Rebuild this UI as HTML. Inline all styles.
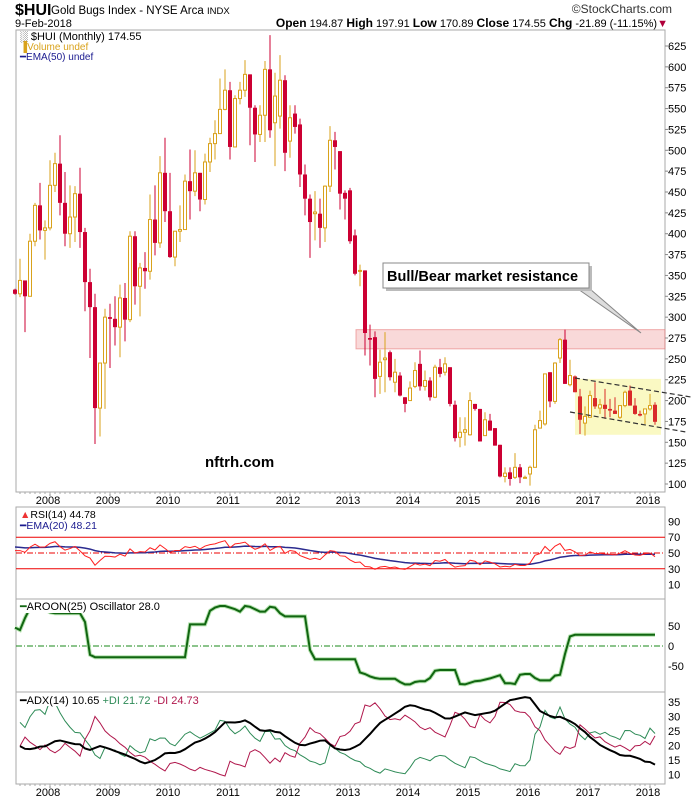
<!DOCTYPE html>
<html><head><meta charset="utf-8"><style>
body{margin:0;background:#fff;font-family:"Liberation Sans",sans-serif;}
svg text{font-family:"Liberation Sans",sans-serif;}
</style></head><body>
<svg id="c" width="700" height="800" viewBox="0 0 700 800" xmlns="http://www.w3.org/2000/svg">
<rect width="700" height="800" fill="#fff"/>
<g>
<text x="15" y="15" font-size="16" font-weight="bold" fill="#000">$HUI</text>
<text x="51" y="14" font-size="11.5" fill="#000">Gold Bugs Index - NYSE Arca <tspan font-size="9.5">INDX</tspan></text>
<text x="672" y="13" font-size="12" fill="#333" text-anchor="end">©StockCharts.com</text>
<text x="15" y="27" font-size="11" fill="#000">9-Feb-2018</text>
<text x="668" y="27" font-size="11" fill="#000" text-anchor="end"><tspan font-weight="bold" font-size="12">Open</tspan> 194.87 <tspan font-weight="bold" font-size="12">High</tspan> 197.91 <tspan font-weight="bold" font-size="12">Low</tspan> 170.89 <tspan font-weight="bold" font-size="12">Close</tspan> 174.55 <tspan font-weight="bold" font-size="12">Chg</tspan> -21.89 (-11.15%)<tspan fill="#b0003a">▼</tspan></text>
</g>
<g id="frames"></g>
<g id="price"></g>
<g id="rsi"></g>
<g id="aroon"></g>
<g id="adx"></g>
<g id="axes"></g>
<g id="overlay"></g>
</svg>
<script>
// ---- data (monthly, Jul 2007 .. Feb 2018) ----
const opens=[333,328,344,325,391,434,404,407,458,484,437,400,420,448,402,342,312,191,245,300,298,288,323,297,397,337,359,355,417,389,473,427,372,403,405,463,451,473,441,486,508,520,549,572,504,562,572,591,551,519,542,597,533,541,584,511,544,531,471,442,424,424,407,457,512,499,449,
452,398,356,356,275,276,229,249,258,222,230,204,200,217,244,217,224,204,240,234,240,195,156,162,159,196,190,158,176,167,147,109,114,108,120,108,112,120,167,172,234,199,251,273,219,229,205,173,180,203,191,195,190,188,180,194,212,194,184,184,190,195];
const highs=[334,370,344,400,437,461,416,488,497,518,474,458,457,479,407,358,328,245,310,316,325,339,341,403,403,365,378,447,458,493,515,473,403,434,471,501,500,473,496,515,536,586,597,582,566,582,608,591,554,554,607,638,593,614,590,554,554,538,483,447,451,442,458,529,522,499,452,
455,405,363,356,291,283,261,282,260,250,234,204,223,246,260,236,228,243,250,252,240,200,180,180,210,196,190,186,184,167,147,120,120,137,124,110,122,171,188,232,234,246,275,285,249,230,214,193,212,222,202,214,202,204,194,212,218,203,188,190,208,198];
const lows=[327,324,282,325,385,393,369,404,450,422,385,383,390,383,307,251,148,157,190,239,266,252,271,294,315,301,334,345,374,383,414,371,361,390,405,417,445,427,435,474,489,520,548,489,504,555,564,506,486,510,510,515,481,526,475,491,520,456,422,371,392,383,390,450,477,429,417,
388,350,337,254,242,204,208,210,224,210,205,186,200,215,212,212,200,203,228,230,193,151,144,146,158,188,151,158,164,146,108,102,98,106,101,108,98,120,167,170,192,196,245,220,217,210,160,158,180,190,184,178,180,184,178,192,194,183,181,172,188,171];
const closes=[328,344,325,391,434,404,407,458,484,437,400,420,448,402,342,312,191,245,300,298,288,323,297,397,337,359,355,417,389,473,427,372,403,405,463,451,473,441,486,508,520,549,572,504,562,572,591,551,519,542,597,524,565,584,497,539,528,471,442,414,426,407,457,512,504,448,442,
391,352,356,281,273,226,246,251,228,234,206,196,215,236,217,224,204,240,232,244,196,155,162,165,200,190,151,177,164,146,109,113,106,120,108,108,120,165,176,232,199,245,273,220,230,210,177,181,206,193,195,190,188,184,194,210,194,184,182,190,194,174.55];
const aroonOsc=[46,40,70,95,100,96,92,84,82,82,82,82,82,82,60,-22,-28,-28,-28,-28,-28,-28,-28,-28,-28,-28,-28,-28,-28,-28,-28,-28,-28,-28,-28,54,54,54,54,88,96,100,100,96,92,86,100,98,92,86,86,98,96,82,74,74,74,74,74,-10,-33,-33,-33,-33,-33,-33,-33,-33,-33,-66,-70,-76,-80,-82,-82,-82,-82,-90,-96,-96,-90,-88,-88,-80,-62,-60,-60,-60,-60,-95,-96,-92,-88,-87,-84,-81,-77,-73,-93,-93,-95,-72,-70,-70,-80,-86,-86,-86,-74,-72,-20,24,28,28,28,28,28,28,28,28,28,28,28,28,28,28,28,28,28];
const yearLabels=["2008","2009","2010","2011","2012","2013","2014","2015","2016","2017","2018"];
const priceTicks=[100,125,150,175,200,225,250,275,300,325,350,375,400,425,450,475,500,525,550,575,600,625];
const rsiTicks=[90,70,50,30,10];
const aroonTicks=[50,0,-50];
const adxTicks=[35,30,25,20,15,10];

const NS="http://www.w3.org/2000/svg";
const N=closes.length;
const L=16,R=665;
function mk(tag,attrs,parent,name){const e=document.createElementNS(NS,tag);for(const k in attrs)e.setAttribute(k,attrs[k]);parent.appendChild(e);


return e;}
const X=i=>655-(N-1-i)*5;
const monthX=(year,m)=>650+((year-2018)*12+m)*5; // Jan 2018 at 650
const yP=p=>46+(625-p)*0.8343;
const yR=v=>553-(v-50)*0.79;
const yA=v=>646-0.4*v;
const yD=v=>702+(35-v)*2.9;

const fr=document.getElementById('frames');
mk('rect',{x:L,y:30,width:R-L,height:462,fill:'none',stroke:'#aaa'},fr,'price-panel-frame');
mk('rect',{x:L,y:507,width:R-L,height:92,fill:'none',stroke:'#aaa'},fr,'rsi-panel-frame');
mk('rect',{x:L,y:599,width:R-L,height:93,fill:'none',stroke:'#aaa'},fr,'aroon-panel-frame');
mk('rect',{x:L,y:692,width:R-L,height:92,fill:'none',stroke:'#aaa'},fr,'adx-panel-frame');

const pg=document.getElementById('price');
mk('rect',{x:356,y:yP(285),width:R-356,height:yP(262)-yP(285),fill:'rgba(235,120,120,0.28)',stroke:'rgba(230,120,120,0.6)'},pg,'resistance-band');
mk('rect',{x:575,y:yP(226),width:86,height:yP(159)-yP(226),fill:'rgba(248,246,170,0.7)'},pg,'consolidation-box');

for(let i=0;i<N;i++){
 const o=opens[i],c=closes[i];
 const h=Math.max(highs[i],o,c),l=Math.min(lows[i],o,c);
 const up=c>=o;
 const col=up?'#d9a21b':(i>=N-18?'#d92a2a':'#cc0033');
 const x=X(i);
 mk('line',{x1:x,x2:x,y1:yP(h),y2:yP(l),stroke:col,'stroke-width':1},pg,'candle-wick');
 const top=yP(Math.max(o,c)),bh=Math.max(1,yP(Math.min(o,c))-top);
 if(up) mk('rect',{x:x-1.5,y:top,width:3,height:bh,fill:'#fff',stroke:col,'stroke-width':1},pg,'candle-body-up');
 else mk('rect',{x:x-2,y:top,width:4,height:bh,fill:col},pg,'candle-body-down');
}
priceTicks.forEach(t=>{mk('line',{x1:R,x2:R+3,y1:yP(t),y2:yP(t),stroke:'#888'},pg,'price-tick');
 const tx=mk('text',{x:668,y:yP(t)+4,'font-size':11,fill:'#000'},pg,'price-tick-label');tx.textContent=t;});

// RSI
const rg=document.getElementById('rsi');
let ag=0,al=0;
for(let i=1;i<=14;i++){const d=closes[i]-closes[i-1];ag+=Math.max(d,0);al+=Math.max(-d,0);}
ag/=14;al/=14;
const rsi=[];
for(let i=1;i<N;i++){const d=closes[i]-closes[i-1];ag=(ag*13+Math.max(d,0))/14;al=(al*13+Math.max(-d,0))/14;rsi[i]=100-100/(1+ag/al);}
rsi[0]=rsi[1];
const rsiE=[];let e=58;const k=2/21;
for(let i=0;i<N;i++){e=e+(rsi[i]-e)*k;rsiE[i]=e;}
mk('line',{x1:L,x2:R,y1:yR(70),y2:yR(70),stroke:'#e00','stroke-width':1},rg,'rsi-70-line');
mk('line',{x1:L,x2:R,y1:yR(30),y2:yR(30),stroke:'#e00','stroke-width':1},rg,'rsi-30-line');
mk('line',{x1:L,x2:R,y1:yR(50),y2:yR(50),stroke:'#e00','stroke-width':1,'stroke-dasharray':'6,2,1,2'},rg,'rsi-50-line');
mk('polyline',{points:rsiE.map((v,i)=>X(i)+','+yR(v)).join(' '),fill:'none',stroke:'#2b2b8f','stroke-width':1.5},rg,'rsi-ema-line');
mk('polyline',{points:rsi.map((v,i)=>X(i)+','+yR(v)).join(' '),fill:'none',stroke:'#ff2020','stroke-width':1},rg,'rsi-line');
rsiTicks.forEach(t=>{const tx=mk('text',{x:668,y:yR(t)+4,'font-size':11},rg,'rsi-tick-label');tx.textContent=t;});

// Aroon
const ar=document.getElementById('aroon');
mk('line',{x1:L,x2:R,y1:yA(0),y2:yA(0),stroke:'#1a8a1a','stroke-dasharray':'6,2,1,2'},ar,'aroon-zero-line');
const apts=aroonOsc.map((v,i)=>X(i)+','+yA(v)).join(' ');
mk('polyline',{points:apts,fill:'none',stroke:'#b6e3b0','stroke-width':4},ar,'aroon-halo');
mk('polyline',{points:apts,fill:'none',stroke:'#116611','stroke-width':2},ar,'aroon-line');
aroonTicks.forEach(t=>{const tx=mk('text',{x:668,y:yA(t)+4,'font-size':11},ar,'aroon-tick-label');tx.textContent=t;});

// ADX
const dg=document.getElementById('adx');
const tr=[],pdm=[],mdm=[];
for(let i=1;i<N;i++){tr.push(Math.max(highs[i]-lows[i],Math.abs(highs[i]-closes[i-1]),Math.abs(lows[i]-closes[i-1])));
 const u=highs[i]-highs[i-1],d=lows[i-1]-lows[i];pdm.push(u>d&&u>0?u:0);mdm.push(d>u&&d>0?d:0);}
let atr=0,ap=0,am=0;for(let j=0;j<14;j++){atr+=tr[j];ap+=pdm[j];am+=mdm[j];}atr/=14;ap/=14;am/=14;
const pdi=[],mdi=[],adx=[];let ax=20;
for(let j=0;j<tr.length;j++){atr+=(tr[j]-atr)/14;ap+=(pdm[j]-ap)/14;am+=(mdm[j]-am)/14;
 const p=100*ap/atr,m=100*am/atr;const dx=100*Math.abs(p-m)/(p+m||1);ax+=(dx-ax)/14;pdi.push(p);mdi.push(m);adx.push(ax);}
const clampD=v=>Math.max(6,Math.min(38,v));
mk('polyline',{points:pdi.map((v,j)=>X(j+1)+','+yD(clampD(v))).join(' '),fill:'none',stroke:'#2e8b57','stroke-width':1},dg,'plus-di-line');
mk('polyline',{points:mdi.map((v,j)=>X(j+1)+','+yD(clampD(v))).join(' '),fill:'none',stroke:'#b0174c','stroke-width':1},dg,'minus-di-line');
mk('polyline',{points:adx.map((v,j)=>X(j+1)+','+yD(clampD(v))).join(' '),fill:'none',stroke:'#000','stroke-width':2},dg,'adx-line');
adxTicks.forEach(t=>{const tx=mk('text',{x:668,y:yD(t)+4,'font-size':11},dg,'adx-tick-label');tx.textContent=t;});

// x axes
const axg=document.getElementById('axes');
yearLabels.forEach((y,j)=>{const x=monthX(+y,0);
 [[492,503],[784,795]].forEach(([base,ty])=>{
  mk('line',{x1:x,x2:x,y1:base,y2:base+4,stroke:'#888'},axg,'year-tick');
  const t=mk('text',{x:x-2,y:ty+1,'font-size':11,'text-anchor':'middle'},axg,'year-label');t.textContent=y;});
});
for(let m=-127;m<=1;m++){const x=650+m*5;if(x>L&&x<R){mk('line',{x1:x,x2:x,y1:492,y2:494,stroke:'#aaa'},axg,'month-tick');mk('line',{x1:x,x2:x,y1:784,y2:786,stroke:'#aaa'},axg,'month-tick');}}

// overlay
const ov=document.getElementById('overlay');
mk('line',{x1:575,y1:378,x2:691,y2:397,stroke:'#333','stroke-dasharray':'5,3','stroke-width':1.2},ov,'upper-trendline');
mk('line',{x1:570,y1:412,x2:686,y2:432,stroke:'#333','stroke-dasharray':'5,3','stroke-width':1.2},ov,'lower-trendline');
mk('polygon',{points:'578,289 590,289 641,333',fill:'#ddd',stroke:'#888'},ov,'callout-pointer');
mk('rect',{x:386,y:266,width:206,height:25,fill:'#bbb'},ov,'annotation-shadow');
mk('rect',{x:383,y:263,width:206,height:25,fill:'#fff',stroke:'#888'},ov,'annotation-box');
let t=mk('text',{x:387,y:281,'font-size':14.5,'font-weight':'bold'},ov,'annotation-text');t.textContent='Bull/Bear market resistance';
t=mk('text',{x:205,y:467,'font-size':15,'font-weight':'bold'},ov,'watermark-text');t.textContent='nftrh.com';

mk('rect',{x:17,y:31,width:130,height:33,fill:'#fff'},ov,'price-legend-bg');
t=mk('text',{x:20,y:40,'font-size':11},ov,'price-legend-entry');t.textContent='\u2591 $HUI (Monthly) 174.55';
t=mk('text',{x:20,y:50,'font-size':10,fill:'#d9a21b'},ov,'volume-legend-entry');t.textContent='\u2590Volume undef';
t=mk('text',{x:20,y:60,'font-size':10,fill:'#1a1a8f'},ov,'ema50-legend-entry');t.textContent='\u2501EMA(50) undef';
mk('rect',{x:17,y:508,width:80,height:23,fill:'#fff'},ov,'rsi-legend-bg');
t=mk('text',{x:20,y:518,'font-size':10.5},ov,'rsi-legend-entry');t.innerHTML='<tspan fill="#e33">\u25b2</tspan>RSI(14) 44.78';
t=mk('text',{x:20,y:529,'font-size':10.5,fill:'#1a1a8f'},ov,'rsi-ema-legend-entry');t.textContent='\u2501EMA(20) 48.21';
mk('rect',{x:17,y:600,width:162,height:13,fill:'#fff'},ov,'aroon-legend-bg');
t=mk('text',{x:20,y:610,'font-size':11},ov,'aroon-legend-entry');t.innerHTML='<tspan fill="#116611">\u2501</tspan>AROON(25) Oscillator 28.0';
mk('rect',{x:17,y:693,width:222,height:13,fill:'#fff'},ov,'adx-legend-bg');
t=mk('text',{x:20,y:704,'font-size':11},ov,'adx-legend-entry');t.innerHTML='\u2501ADX(14) 10.65 <tspan fill="#2e8b57">+DI 21.72</tspan> <tspan fill="#b0174c">-DI 24.73</tspan>';
</script>
</body></html>
